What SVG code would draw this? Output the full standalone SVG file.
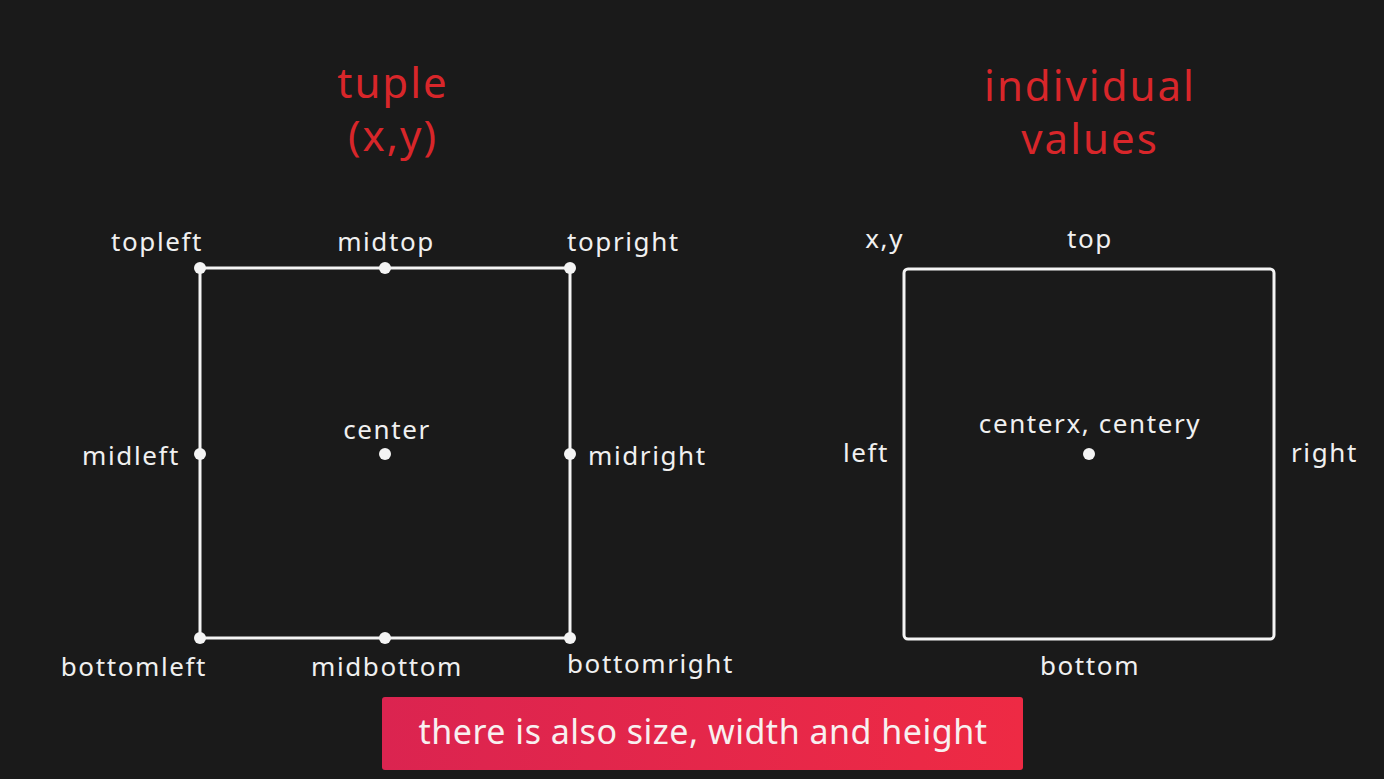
<svg xmlns="http://www.w3.org/2000/svg" width="1384" height="779" viewBox="0 0 1384 779">
<defs>
<style>
.lbl{font-family:"Noto Sans","Open Sans",sans-serif;font-size:26px;fill:#f0f0f0;letter-spacing:1.6px}
.title{font-family:"Noto Sans","Open Sans",sans-serif;font-size:42px;fill:#d8262a;letter-spacing:2px}
.box{fill:none;stroke:#f4f4f4;stroke-width:3}
.dot{fill:#f4f4f4}
.mid{text-anchor:middle}
.end{text-anchor:end}
</style>
<linearGradient id="bg" x1="0" y1="0" x2="1" y2="0">
<stop offset="0" stop-color="#db2450"/>
<stop offset="1" stop-color="#ee2a44"/>
</linearGradient>
</defs>
<rect width="1384" height="779" fill="#1a1a1a"/>
<g id="title-left"><text class="title mid" x="393" y="98">tuple</text><text class="title mid" x="393" y="151">(x,y)</text></g>
<g id="title-right"><text class="title mid" x="1090" y="101">individual</text><text class="title mid" x="1090" y="154">values</text></g>
<g id="box-left"><rect class="box" x="200" y="268" width="370" height="370"/></g>
<g id="connectors"></g>
<g id="pts-left">
<circle class="dot" cx="200" cy="268" r="6"/><circle class="dot" cx="385" cy="268" r="6"/><circle class="dot" cx="570" cy="268" r="6"/>
<circle class="dot" cx="200" cy="454" r="6"/><circle class="dot" cx="385" cy="454" r="6"/><circle class="dot" cx="570" cy="454" r="6"/>
<circle class="dot" cx="200" cy="638" r="6"/><circle class="dot" cx="385" cy="638" r="6"/><circle class="dot" cx="570" cy="638" r="6"/>
</g>
<g id="labels-left">
<text class="lbl end" x="203" y="251">topleft</text>
<text class="lbl mid" x="386" y="251">midtop</text>
<text class="lbl" x="567" y="251">topright</text>
<text class="lbl mid" x="387" y="439">center</text>
<text class="lbl end" x="180" y="465">midleft</text>
<text class="lbl" x="588" y="465">midright</text>
<text class="lbl end" x="207" y="676">bottomleft</text>
<text class="lbl mid" x="387" y="676">midbottom</text>
<text class="lbl" x="567" y="673">bottomright</text>
</g>
<g id="box-right"><rect class="box" x="904" y="269" width="370" height="370" rx="4"/><circle class="dot" cx="1089" cy="454" r="6"/></g>
<g id="labels-right">
<text class="lbl end" x="904" y="248">x,y</text>
<text class="lbl mid" x="1090" y="248">top</text>
<text class="lbl mid" x="1090" y="433">centerx, centery</text>
<text class="lbl end" x="889" y="462">left</text>
<text class="lbl" x="1291" y="462">right</text>
<text class="lbl mid" x="1090" y="675">bottom</text>
</g>
<g id="banner">
<rect x="382" y="697" width="641" height="73" rx="3" fill="url(#bg)"/>
<text class="mid" x="703" y="744" style="font-family:'Noto Sans','Open Sans',sans-serif;font-size:34px;fill:#f8f0f0;letter-spacing:0.5px">there is also size, width and height</text>
</g>
</svg>
